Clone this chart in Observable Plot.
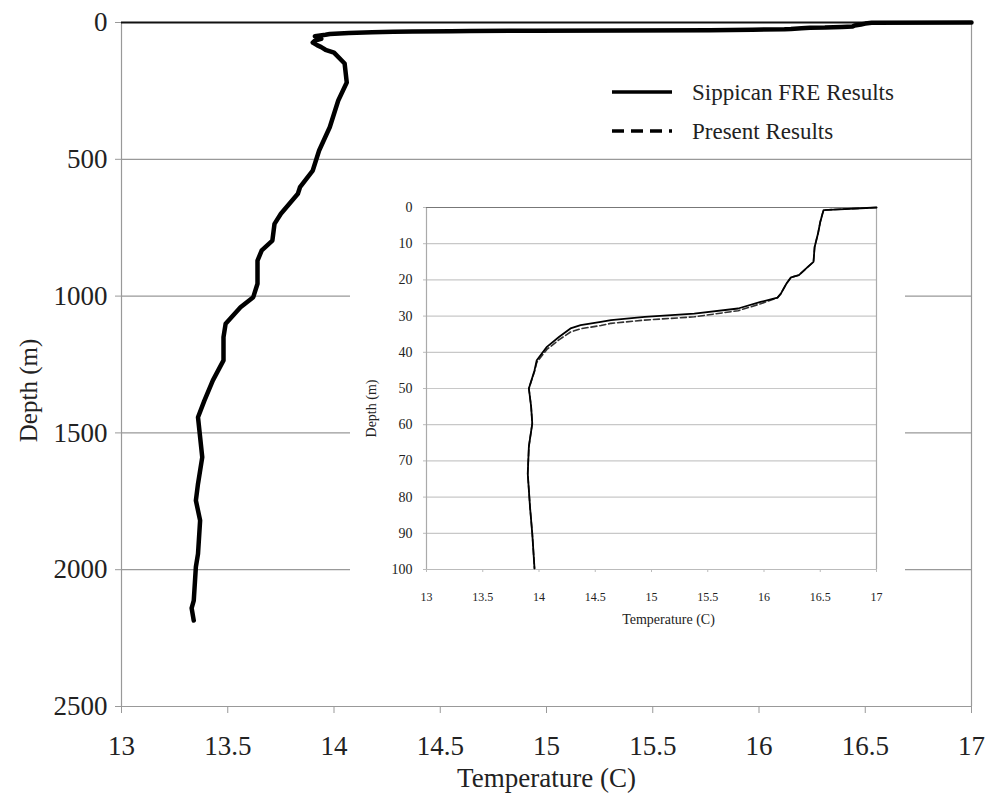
<!DOCTYPE html>
<html><head><meta charset="utf-8">
<script src="https://cdn.jsdelivr.net/npm/d3@7"></script>
<script src="https://cdn.jsdelivr.net/npm/@observablehq/plot@0.6"></script>
<style>
body{margin:0;background:#fff;}
#wrap{position:relative;width:986px;height:801px;font-family:"Liberation Serif","Times New Roman",serif;background:#fff;overflow:hidden;}
#main{position:absolute;left:0;top:0;}
#inset{position:absolute;left:350px;top:190px;}
#legend{position:absolute;left:600px;top:70px;}
</style>
</head><body>
<div id="wrap"><div id="main"></div><div id="inset"></div><div id="legend"></div></div>
<script>
// ---- data ----
const seriesNames = ["Sippican FRE Results", "Present Results"];
const sippicanDepth = [0, 0.7, 1.7, 4, 7.2, 10.9, 15, 16.4, 18.7, 19.3, 21, 23.8, 24.9, 26.1, 27.9, 29.3, 30.2, 31.1, 31.6, 32.5, 33.4, 35.7, 38.5, 42.2, 45, 50, 55, 59.7, 66, 73.5, 82.7, 90, 99.7,
  110, 150, 219, 285, 383, 468, 541, 602, 626, 699, 736, 797, 833, 870, 955, 1004, 1041, 1101, 1150, 1235, 1308, 1382, 1443, 1516, 1589, 1686, 1747, 1820, 1942, 1990, 2113, 2140, 2186];
const sippicanTemp = [17.0, 16.53, 16.52, 16.50, 16.48, 16.45, 16.44, 16.39, 16.31, 16.24, 16.20, 16.15, 16.12, 15.97, 15.77, 15.38, 14.94, 14.64, 14.55, 14.37, 14.28, 14.18, 14.07, 13.98, 13.96, 13.91, 13.93, 13.94, 13.91, 13.90, 13.92, 13.94, 13.96,
  14.00, 14.05, 14.06, 14.02, 13.98, 13.93, 13.90, 13.84, 13.83, 13.75, 13.72, 13.71, 13.66, 13.64, 13.64, 13.62, 13.56, 13.49, 13.48, 13.48, 13.43, 13.39, 13.36, 13.37, 13.38, 13.36, 13.35, 13.37, 13.36, 13.35, 13.34, 13.33, 13.34];
const presentDepth = [0, 0.7, 1.7, 4, 7.2, 10.9, 15, 16.4, 18.7, 19.3, 21, 23.8, 24.9, 26.6, 28.5, 30.2, 31.1, 32.0, 32.6, 33.5, 34.4, 36.5, 39.2, 42.8, 45.3, 50, 55, 59.7, 66, 73.5, 82.7, 90, 99.7];
const presentTemp = [17.0, 16.53, 16.52, 16.50, 16.48, 16.45, 16.44, 16.39, 16.31, 16.24, 16.20, 16.15, 16.12, 15.97, 15.77, 15.38, 14.94, 14.64, 14.55, 14.37, 14.28, 14.18, 14.07, 13.98, 13.96, 13.91, 13.93, 13.94, 13.91, 13.90, 13.92, 13.94, 13.96];
const xTicks = [13, 13.5, 14, 14.5, 15, 15.5, 16, 16.5, 17];
const mainYTicks = [0, 500, 1000, 1500, 2000, 2500];
const insetYTicks = [0, 10, 20, 30, 40, 50, 60, 70, 80, 90, 100];

const sippican = sippicanDepth.map((d, i) => ({depth: d, temp: sippicanTemp[i]}));
const present = presentDepth.map((d, i) => ({depth: d, temp: presentTemp[i]}));
const sippicanShallow = sippican.filter(d => d.depth <= 100);
const font = "Liberation Serif, Times New Roman, serif";

// ---- main chart ----
const main = Plot.plot({
  width: 986, height: 801,
  marginLeft: 121, marginRight: 15, marginTop: 22, marginBottom: 95,
  style: {fontFamily: font, fontSize: "27px", color: "#222", background: "#fff", overflow: "visible"},
  x: {domain: [13, 17]},
  y: {domain: [0, 2500], reverse: true},
  marks: [
    Plot.ruleY(mainYTicks.filter(d => d > 0 && d < 2500), {stroke: "#999", strokeWidth: 1.2}),
    Plot.ruleX([13, 17], {stroke: "#999", strokeWidth: 1.2}),
    Plot.ruleY([2500], {stroke: "#999", strokeWidth: 1.2}),
    Plot.ruleY([0], {stroke: "#111", strokeWidth: 2}),
    Plot.axisX({ticks: xTicks, tickFormat: d => String(d), tickSize: 7, tickPadding: 22, stroke: "#999", fill: "#222", label: null, fontSize: 27}),
    Plot.axisY({ticks: mainYTicks, tickFormat: d => String(d), tickSize: 6, tickPadding: 8, stroke: "#999", fill: "#222", label: null, fontSize: 27}),
    Plot.text(["Temperature (C)"], {frameAnchor: "bottom", textAnchor: "middle", dy: 80, fontSize: 27, fill: "#222"}),
    Plot.text(["Depth (m)"], {frameAnchor: "left", textAnchor: "middle", dx: -93, dy: 26, rotate: -90, fontSize: 25, fill: "#222"}),
    Plot.line(sippican, {x: "temp", y: "depth", stroke: "#000", strokeWidth: 4.5, strokeLinejoin: "round"})
  ]
});
document.getElementById("main").appendChild(main);

// ---- inset chart ----
const inset = Plot.plot({
  width: 555, height: 450,
  marginLeft: 76, marginRight: 29, marginTop: 17, marginBottom: 71,
  style: {fontFamily: font, fontSize: "12px", color: "#222", background: "#fff", overflow: "visible"},
  x: {domain: [13, 17]},
  y: {domain: [0, 100], reverse: true},
  marks: [
    Plot.ruleY(insetYTicks.filter(d => d > 0 && d < 100), {stroke: "#c8c8c8", strokeWidth: 1.2}),
    Plot.ruleX([13, 17], {stroke: "#aaa", strokeWidth: 1.2}),
    Plot.ruleY([100], {stroke: "#bbb", strokeWidth: 1.2}),
    Plot.ruleY([0], {stroke: "#777", strokeWidth: 1.2}),
    Plot.axisX({ticks: xTicks, tickFormat: d => String(d), tickSize: 3, tickPadding: 20, stroke: "#bbb", fill: "#222", label: null, fontSize: 12}),
    Plot.axisY({ticks: insetYTicks, tickFormat: d => String(d), tickSize: 3, tickPadding: 11, stroke: "#bbb", fill: "#222", label: null, fontSize: 14}),
    Plot.text(["Temperature (C)"], {frameAnchor: "bottom", textAnchor: "middle", dx: 17, dy: 54, fontSize: 14, fill: "#222"}),
    Plot.text(["Depth (m)"], {frameAnchor: "left", textAnchor: "middle", dx: -55, dy: 20, rotate: -90, fontSize: 14, fill: "#222"}),
    Plot.line(present, {x: "temp", y: "depth", stroke: "#333", strokeWidth: 1.6, strokeDasharray: "6,3"}),
    Plot.line(sippicanShallow, {x: "temp", y: "depth", stroke: "#000", strokeWidth: 1.8})
  ]
});
document.getElementById("inset").appendChild(inset);

// ---- legend ----
const leg = d3.select("#legend").append("svg").attr("width", 340).attr("height", 80)
  .style("font-family", font).style("font-size", "23px");
const legItems = seriesNames.map((name, i) => ({name, dash: i === 1 ? "12,7" : null}));
const g = leg.selectAll("g").data(legItems).join("g").attr("transform", (d, i) => `translate(0,${22 + i * 39})`);
g.append("line").attr("x1", 12).attr("x2", 72).attr("y1", 0).attr("y2", 0)
  .attr("stroke", "#000").attr("stroke-width", 3.5).attr("stroke-dasharray", d => d.dash);
g.append("text").attr("x", 92).attr("y", 0).attr("dy", "0.35em").attr("fill", "#222").text(d => d.name);
</script>
</body></html>
